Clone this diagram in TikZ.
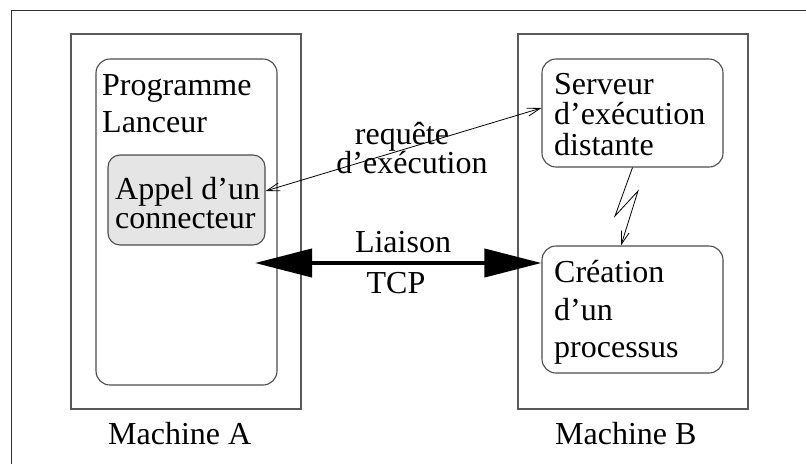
\documentclass[tikz,border=0pt]{standalone}
\usepackage{fontspec}
\setmainfont{Liberation Serif}
\usetikzlibrary{arrows.meta}
\tikzset{
  frameline/.style={draw=black!80, line width=1pt},
  machinebox/.style={draw=black!65, line width=1.2pt, minimum width=230pt, minimum height=375pt, inner sep=0pt},
  progbox/.style={draw=black!70, line width=1.1pt, rounded corners=14pt, inner sep=0pt},
  callbox/.style={progbox, fill=black!10, rounded corners=12pt},
  txt/.style={anchor=base west, inner sep=0pt, font=\fontsize{32}{36}\selectfont},
  ctxt/.style={txt, anchor=base},
  thin arrow/.style={draw=black, line width=0.8pt,
    {Straight Barb[length=13pt, width=8pt]}-{Straight Barb[length=13pt, width=8pt]}},
  spark/.style={draw=black, line width=0.8pt, -{Straight Barb[length=13pt, width=8pt]}},
  tcp arrow/.style={draw=black, line width=4pt,
    {Triangle[length=57pt, width=28pt]}-{Triangle[length=57pt, width=28pt]}},
}
\begin{document}
\begin{tikzpicture}[x=1pt, y=-1pt]
\useasboundingbox (0,0) rectangle (806,464);
% page frame (top and left edges)
\coordinate (frTR) at (806,10);
\coordinate (frTL) at (11,10);
\coordinate (frBL) at (11,464);
\draw[frameline] (frTR) -- (frTL) -- (frBL);

% machine A
\node[machinebox] (machA) at (186,221.5) {};
\node[progbox, minimum width=181pt, minimum height=326pt] (prog) at (186.5,222) {};
\node[callbox, minimum width=157pt, minimum height=90pt] (appel) at (186.5,200) {};
\node[txt] (tProg) at (102,95) {Programme};
\node[txt] (tLanc) at (102,132) {Lanceur};
\node[txt] (tAppel) at (115,199) {Appel d’un};
\node[txt] (tConn) at (115,228) {connecteur};
\node[txt] (tMachA) at (108,444) {Machine A};

% machine B
\node[machinebox] (machB) at (633,221.5) {};
\node[progbox, minimum width=181pt, minimum height=108pt] (serveur) at (632.5,113) {};
\node[progbox, minimum width=181pt, minimum height=127pt] (creation) at (632.5,309.5) {};
\node[txt] (tServ) at (554,94) {Serveur};
\node[txt] (tExec) at (554,124) {d’exécution};
\node[txt] (tDist) at (554,155) {distante};
\node[txt] (tCrea) at (554,282) {Création};
\node[txt] (tDun) at (554,320) {d’un};
\node[txt] (tProc) at (554,357) {processus};
\node[txt] (tMachB) at (555,444) {Machine B};

% execution request between the two machines
\draw[thin arrow] ([yshift=9pt]appel.east) -- ([yshift=5pt]serveur.west);
\node[ctxt] (tReq) at (402,144) {requête};
\node[ctxt] (tReqB) at (412,173) {d’exécution};

% TCP link
\coordinate (tcpL) at (255,263);
\draw[tcp arrow] (tcpL) -- (tcpL -| creation.west);
\node[ctxt] (tLiai) at (403,252) {Liaison};
\node[ctxt] (tTcp) at (396,293) {TCP};

% process spawn (zig-zag)
\coordinate (zA) at (615,216);
\coordinate (zB) at (638,191);
\draw[spark] (serveur.south) -- (zA) -- (zB) -- ([xshift=-11.5pt]creation.north);
\end{tikzpicture}
\end{document}
